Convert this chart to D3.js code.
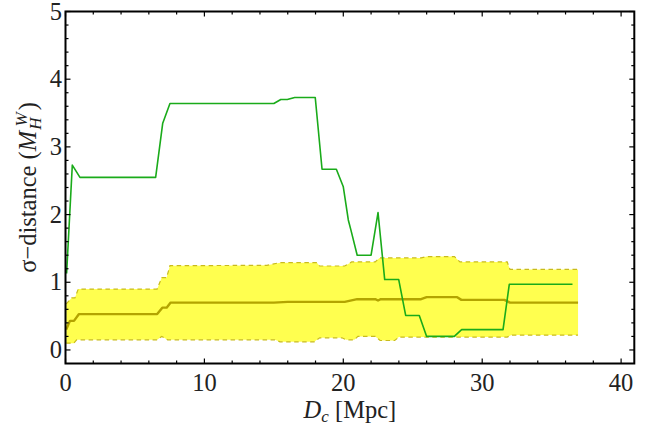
<!DOCTYPE html>
<html><head><meta charset="utf-8">
<script src="https://cdn.jsdelivr.net/npm/d3@7"></script>
<style>body{margin:0;background:#fff}svg{display:block}</style>
</head><body>
<svg id="c" width="657" height="439"></svg>
<script>
// ---- data ----
const xTicks = [0, 10, 20, 30, 40];
const yTicks = [0, 1, 2, 3, 4, 5];

const greenX = [0.08, 0.49, 1.04, 6.49, 7.0, 7.52, 15.0, 15.5, 15.97, 16.5, 17.98, 18.47, 19.5, 20.0, 20.36, 20.55, 21.0, 22.0, 22.5, 22.98, 23.99, 24.49, 25.47, 26.0, 27.99, 28.52, 31.5, 31.95, 36.5];
const greenY = [1.13, 2.73, 2.55, 2.55, 3.35, 3.64, 3.64, 3.70, 3.70, 3.73, 3.73, 2.67, 2.67, 2.41, 1.92, 1.77, 1.40, 1.40, 2.03, 1.04, 1.04, 0.51, 0.51, 0.20, 0.20, 0.30, 0.30, 0.97, 0.97];

const meanX = [0.05, 0.32, 0.61, 0.97, 6.6, 6.97, 7.28, 7.57, 15.0, 16.0, 20.1, 21.0, 22.3, 22.5, 22.7, 25.6, 26.0, 28.2, 28.5, 31.6, 32.0, 36.9];
const meanY = [0.30, 0.43, 0.43, 0.53, 0.53, 0.625, 0.625, 0.70, 0.70, 0.71, 0.71, 0.75, 0.75, 0.73, 0.75, 0.75, 0.78, 0.78, 0.74, 0.74, 0.70, 0.70];

const upperX = [0.05, 0.45, 0.68, 0.92, 6.6, 6.93, 7.28, 7.52, 14.5, 15.45, 18.1, 18.3, 20.1, 20.6, 22.3, 22.6, 25.6, 26.0, 28.0, 28.4, 31.8, 32.0, 36.9];
const upperY = [0.68, 0.77, 0.77, 0.90, 0.90, 1.07, 1.07, 1.245, 1.25, 1.29, 1.29, 1.24, 1.24, 1.30, 1.30, 1.36, 1.36, 1.38, 1.38, 1.30, 1.30, 1.19, 1.19];

const lowerX = [0.05, 0.6, 0.8, 6.6, 6.93, 7.35, 15.08, 15.45, 17.9, 18.3, 19.9, 20.2, 20.8, 21.05, 22.3, 22.65, 23.7, 24.0, 31.8, 32.1, 36.9];
const lowerY = [0.10, 0.10, 0.15, 0.15, 0.20, 0.15, 0.15, 0.12, 0.12, 0.18, 0.18, 0.15, 0.15, 0.20, 0.20, 0.14, 0.14, 0.19, 0.19, 0.22, 0.22];

// ---- chart ----
const svg = d3.select("#c");
const L = 65.5, R = 634.3, T = 11.5, B = 363.5;
const x = d3.scaleLinear().domain([0, 40.95]).range([L, R]);
const y = d3.scaleLinear().domain([-0.2, 5]).range([B, T]);
const font = "'Liberation Serif','Times New Roman',serif";
const FS = 24.5;

const zip = (xs, ys) => xs.map((v, i) => [v, ys[i]]);
const line = d3.line().x(d => x(d[0])).y(d => y(d[1]));

// band fill
const poly = zip(upperX, upperY).concat(zip(lowerX, lowerY).reverse());
svg.append("path").attr("d", line(poly) + "Z").attr("fill", "#ffff4f").attr("stroke", "none");

// dashed edges
[[upperX, upperY], [lowerX, lowerY]].forEach(([xs, ys]) => {
  svg.append("path").attr("d", line(zip(xs, ys))).attr("fill", "none")
    .attr("stroke", "#c9bb1c").attr("stroke-width", 1.2).attr("stroke-dasharray", "4.5,3.5");
});

// mean
svg.append("path").attr("d", line(zip(meanX, meanY))).attr("fill", "none")
  .attr("stroke", "#b3a400").attr("stroke-width", 2.4).attr("stroke-linejoin", "round");

// green
svg.append("path").attr("d", line(zip(greenX, greenY))).attr("fill", "none")
  .attr("stroke", "#1aab1a").attr("stroke-width", 1.6).attr("stroke-linejoin", "round");

// frame
svg.append("rect").attr("x", L).attr("y", T).attr("width", R - L).attr("height", B - T)
  .attr("fill", "none").attr("stroke", "#000").attr("stroke-width", 2);

// ticks (inward, all four sides)
const g = svg.append("g").attr("stroke", "#000").attr("stroke-width", 1.2);
d3.range(0, 41, 2).forEach(v => {
  const len = v % 10 === 0 ? 5 : 3;
  g.append("line").attr("x1", x(v)).attr("x2", x(v)).attr("y1", B).attr("y2", B - len);
  g.append("line").attr("x1", x(v)).attr("x2", x(v)).attr("y1", T).attr("y2", T + len);
});
d3.range(0, 26).map(i => Math.round((i * 0.2) * 10) / 10).forEach(v => {
  const len = Math.abs(v - Math.round(v)) < 1e-6 ? 5 : 3;
  g.append("line").attr("y1", y(v)).attr("y2", y(v)).attr("x1", L).attr("x2", L + len);
  g.append("line").attr("y1", y(v)).attr("y2", y(v)).attr("x1", R).attr("x2", R - len);
});

// tick labels
svg.append("g").selectAll("text").data(xTicks).join("text")
  .attr("x", d => x(d)).attr("y", 391).attr("text-anchor", "middle")
  .attr("font-family", font).attr("font-size", FS).attr("fill", "#222").text(d => d);
svg.append("g").selectAll("text").data(yTicks).join("text")
  .attr("x", 62).attr("y", d => y(d) + 8).attr("text-anchor", "end")
  .attr("font-family", font).attr("font-size", FS).attr("fill", "#222").text(d => d);

// x title
const xt = svg.append("text").attr("x", (L + R) / 2).attr("y", 418).attr("text-anchor", "middle")
  .attr("font-family", font).attr("font-size", FS).attr("fill", "#222");
xt.append("tspan").attr("font-style", "italic").text("D");
xt.append("tspan").attr("font-style", "italic").attr("font-size", 17).attr("dy", 4).text("c");
xt.append("tspan").attr("dy", -4).text(" [Mpc]");

// y title
const yt = svg.append("text").attr("transform", `translate(36,${(T + B) / 2}) rotate(-90)`)
  .attr("text-anchor", "middle").attr("font-family", font).attr("font-size", FS).attr("fill", "#222");
yt.append("tspan").text("σ−distance (");
yt.append("tspan").attr("font-style", "italic").text("M");
yt.append("tspan").attr("font-style", "italic").attr("font-size", 17).attr("dx", 1).attr("dy", 5).text("H");
yt.append("tspan").attr("font-style", "italic").attr("font-size", 17).attr("dx", -9).attr("dy", -14).text("W");
yt.append("tspan").attr("dy", 9).attr("dx", 2).text(")");
</script>
</body></html>
